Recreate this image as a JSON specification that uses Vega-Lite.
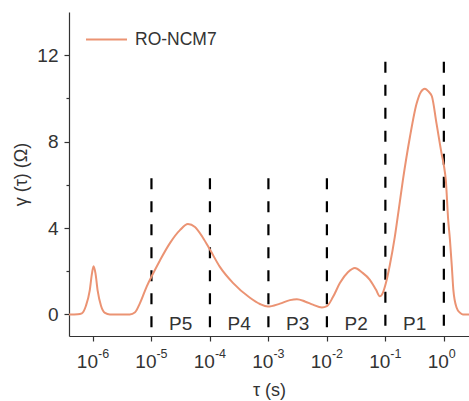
{
  "$schema": "https://vega.github.io/schema/vega-lite/v6.json",
  "width": 400,
  "height": 324,
  "autosize": {"type": "none"},
  "padding": {"left": 69, "top": 12, "right": 0, "bottom": 65},
  "background": "white",
  "config": {
    "view": {"stroke": null},
    "font": "Liberation Sans",
    "axis": {
      "grid": false,
      "domainColor": "#333",
      "domainWidth": 1.2,
      "tickColor": "#333",
      "tickWidth": 1.2,
      "labelColor": "#333",
      "titleColor": "#333",
      "labelFont": "Liberation Sans",
      "titleFont": "Liberation Sans",
      "labelFontSize": 19,
      "titleFontSize": 18,
      "titleFontWeight": "normal"
    }
  },
  "datasets": {
    "curve": [
      {"log_tau": -6.41, "gamma": 0, "sample": "RO-NCM7"},
      {"log_tau": -6.26, "gamma": 0.01, "sample": "RO-NCM7"},
      {"log_tau": -6.19, "gamma": 0.05, "sample": "RO-NCM7"},
      {"log_tau": -6.12, "gamma": 0.4, "sample": "RO-NCM7"},
      {"log_tau": -6.056, "gamma": 1.1, "sample": "RO-NCM7"},
      {"log_tau": -6.017, "gamma": 1.9, "sample": "RO-NCM7"},
      {"log_tau": -5.99, "gamma": 2.23, "sample": "RO-NCM7"},
      {"log_tau": -5.957, "gamma": 1.9, "sample": "RO-NCM7"},
      {"log_tau": -5.92, "gamma": 1.1, "sample": "RO-NCM7"},
      {"log_tau": -5.863, "gamma": 0.4, "sample": "RO-NCM7"},
      {"log_tau": -5.795, "gamma": 0.07, "sample": "RO-NCM7"},
      {"log_tau": -5.71, "gamma": 0, "sample": "RO-NCM7"},
      {"log_tau": -5.37, "gamma": 0, "sample": "RO-NCM7"},
      {"log_tau": -5.28, "gamma": 0.1, "sample": "RO-NCM7"},
      {"log_tau": -5.2, "gamma": 0.5, "sample": "RO-NCM7"},
      {"log_tau": -5.08, "gamma": 1.3, "sample": "RO-NCM7"},
      {"log_tau": -4.99, "gamma": 1.8, "sample": "RO-NCM7"},
      {"log_tau": -4.855, "gamma": 2.5, "sample": "RO-NCM7"},
      {"log_tau": -4.684, "gamma": 3.3, "sample": "RO-NCM7"},
      {"log_tau": -4.513, "gamma": 3.9, "sample": "RO-NCM7"},
      {"log_tau": -4.376, "gamma": 4.18, "sample": "RO-NCM7"},
      {"log_tau": -4.256, "gamma": 4.05, "sample": "RO-NCM7"},
      {"log_tau": -4.12, "gamma": 3.55, "sample": "RO-NCM7"},
      {"log_tau": -4.0, "gamma": 3.0, "sample": "RO-NCM7"},
      {"log_tau": -3.83, "gamma": 2.2, "sample": "RO-NCM7"},
      {"log_tau": -3.607, "gamma": 1.46, "sample": "RO-NCM7"},
      {"log_tau": -3.316, "gamma": 0.77, "sample": "RO-NCM7"},
      {"log_tau": -3.145, "gamma": 0.48, "sample": "RO-NCM7"},
      {"log_tau": -3.009, "gamma": 0.36, "sample": "RO-NCM7"},
      {"log_tau": -2.803, "gamma": 0.5, "sample": "RO-NCM7"},
      {"log_tau": -2.632, "gamma": 0.66, "sample": "RO-NCM7"},
      {"log_tau": -2.513, "gamma": 0.7, "sample": "RO-NCM7"},
      {"log_tau": -2.376, "gamma": 0.6, "sample": "RO-NCM7"},
      {"log_tau": -2.239, "gamma": 0.45, "sample": "RO-NCM7"},
      {"log_tau": -2.085, "gamma": 0.32, "sample": "RO-NCM7"},
      {"log_tau": -2.0, "gamma": 0.38, "sample": "RO-NCM7"},
      {"log_tau": -1.897, "gamma": 0.8, "sample": "RO-NCM7"},
      {"log_tau": -1.778, "gamma": 1.45, "sample": "RO-NCM7"},
      {"log_tau": -1.641, "gamma": 1.95, "sample": "RO-NCM7"},
      {"log_tau": -1.521, "gamma": 2.15, "sample": "RO-NCM7"},
      {"log_tau": -1.402, "gamma": 1.95, "sample": "RO-NCM7"},
      {"log_tau": -1.265, "gamma": 1.6, "sample": "RO-NCM7"},
      {"log_tau": -1.162, "gamma": 1.15, "sample": "RO-NCM7"},
      {"log_tau": -1.094, "gamma": 0.84, "sample": "RO-NCM7"},
      {"log_tau": -1.043, "gamma": 1.0, "sample": "RO-NCM7"},
      {"log_tau": -0.991, "gamma": 1.45, "sample": "RO-NCM7"},
      {"log_tau": -0.923, "gamma": 2.3, "sample": "RO-NCM7"},
      {"log_tau": -0.838, "gamma": 3.6, "sample": "RO-NCM7"},
      {"log_tau": -0.769, "gamma": 4.9, "sample": "RO-NCM7"},
      {"log_tau": -0.701, "gamma": 6.2, "sample": "RO-NCM7"},
      {"log_tau": -0.581, "gamma": 8.2, "sample": "RO-NCM7"},
      {"log_tau": -0.467, "gamma": 9.75, "sample": "RO-NCM7"},
      {"log_tau": -0.393, "gamma": 10.3, "sample": "RO-NCM7"},
      {"log_tau": -0.325, "gamma": 10.45, "sample": "RO-NCM7"},
      {"log_tau": -0.256, "gamma": 10.3, "sample": "RO-NCM7"},
      {"log_tau": -0.205, "gamma": 10.1, "sample": "RO-NCM7"},
      {"log_tau": -0.125, "gamma": 8.83, "sample": "RO-NCM7"},
      {"log_tau": -0.039, "gamma": 7.45, "sample": "RO-NCM7"},
      {"log_tau": 0.0, "gamma": 6.9, "sample": "RO-NCM7"},
      {"log_tau": 0.034, "gamma": 6.2, "sample": "RO-NCM7"},
      {"log_tau": 0.074, "gamma": 4.38, "sample": "RO-NCM7"},
      {"log_tau": 0.103, "gamma": 3.5, "sample": "RO-NCM7"},
      {"log_tau": 0.137, "gamma": 2.2, "sample": "RO-NCM7"},
      {"log_tau": 0.162, "gamma": 1.15, "sample": "RO-NCM7"},
      {"log_tau": 0.217, "gamma": 0.32, "sample": "RO-NCM7"},
      {"log_tau": 0.274, "gamma": 0.08, "sample": "RO-NCM7"},
      {"log_tau": 0.325, "gamma": 0, "sample": "RO-NCM7"},
      {"log_tau": 0.43, "gamma": 0, "sample": "RO-NCM7"}
    ],
    "dividers": [
      {"log_tau": -5, "top": 6.3},
      {"log_tau": -4, "top": 6.3},
      {"log_tau": -3, "top": 6.3},
      {"log_tau": -2, "top": 6.3},
      {"log_tau": -1, "top": 11.7},
      {"log_tau": 0, "top": 11.7}
    ],
    "regions": [
      {"log_tau": -4.5, "name": "P5"},
      {"log_tau": -3.5, "name": "P4"},
      {"log_tau": -2.5, "name": "P3"},
      {"log_tau": -1.5, "name": "P2"},
      {"log_tau": -0.5, "name": "P1"}
    ],
    "exponents": [
      {"log_tau": -6, "exp": "-6"},
      {"log_tau": -5, "exp": "-5"},
      {"log_tau": -4, "exp": "-4"},
      {"log_tau": -3, "exp": "-3"},
      {"log_tau": -2, "exp": "-2"},
      {"log_tau": -1, "exp": "-1"},
      {"log_tau": 0, "exp": "0"}
    ]
  },
  "layer": [
    {
      "data": {"name": "dividers"},
      "mark": {"type": "rule", "color": "black", "strokeWidth": 2.2, "strokeDash": [11, 12]},
      "encoding": {
        "x": {"field": "log_tau", "type": "quantitative"},
        "y": {"field": "top", "type": "quantitative"},
        "y2": {"datum": -1}
      }
    },
    {
      "data": {"name": "curve"},
      "mark": {"type": "line", "strokeWidth": 2, "interpolate": "monotone"},
      "encoding": {
        "x": {
          "field": "log_tau",
          "type": "quantitative",
          "title": "τ (s)",
          "scale": {"domain": [-6.41, 0.43], "nice": false, "zero": false},
          "axis": {
            "values": [-6, -5, -4, -3, -2, -1, 0],
            "tickSize": 5,
            "labelPadding": 11,
            "titlePadding": 10,
            "labelAlign": "right",
            "labelOffset": 4.5,
            "labelExpr": "'10'"
          }
        },
        "y": {
          "field": "gamma",
          "type": "quantitative",
          "title": "γ (τ) (Ω)",
          "scale": {"domain": [-1, 14], "nice": false, "zero": false},
          "axis": {
            "values": [0, 2, 4, 6, 8, 10, 12],
            "tickSize": {"condition": {"test": "datum.value % 4 != 0", "value": 3}, "value": 5},
            "labelExpr": "datum.value % 4 == 0 ? datum.label : ''",
            "labelPadding": 6,
            "titlePadding": 6
          }
        },
        "color": {
          "field": "sample",
          "type": "nominal",
          "scale": {"domain": ["RO-NCM7"], "range": ["#EB9373"]},
          "legend": {
            "title": null,
            "orient": "none",
            "legendX": 16,
            "legendY": 6,
            "symbolType": "stroke",
            "symbolSize": 1681,
            "symbolStrokeWidth": 2,
            "labelFontSize": 17.5,
            "labelFont": "Liberation Sans",
            "labelColor": "#333",
            "labelOffset": 7
          }
        }
      }
    },
    {
      "data": {"name": "regions"},
      "mark": {"type": "text", "fontSize": 19, "color": "#333", "baseline": "alphabetic", "font": "Liberation Sans"},
      "encoding": {
        "x": {"field": "log_tau", "type": "quantitative"},
        "y": {"datum": -0.7},
        "text": {"field": "name"}
      }
    },
    {
      "data": {"name": "exponents"},
      "mark": {"type": "text", "fontSize": 12.5, "color": "#333", "baseline": "top", "align": "left", "dx": 5, "dy": 11.5, "font": "Liberation Sans"},
      "encoding": {
        "x": {"field": "log_tau", "type": "quantitative"},
        "y": {"datum": -1},
        "text": {"field": "exp"}
      }
    },
    {
      "mark": {"type": "rule", "color": "#333", "strokeWidth": 1.2},
      "encoding": {"y": {"datum": 14}}
    }
  ]
}
